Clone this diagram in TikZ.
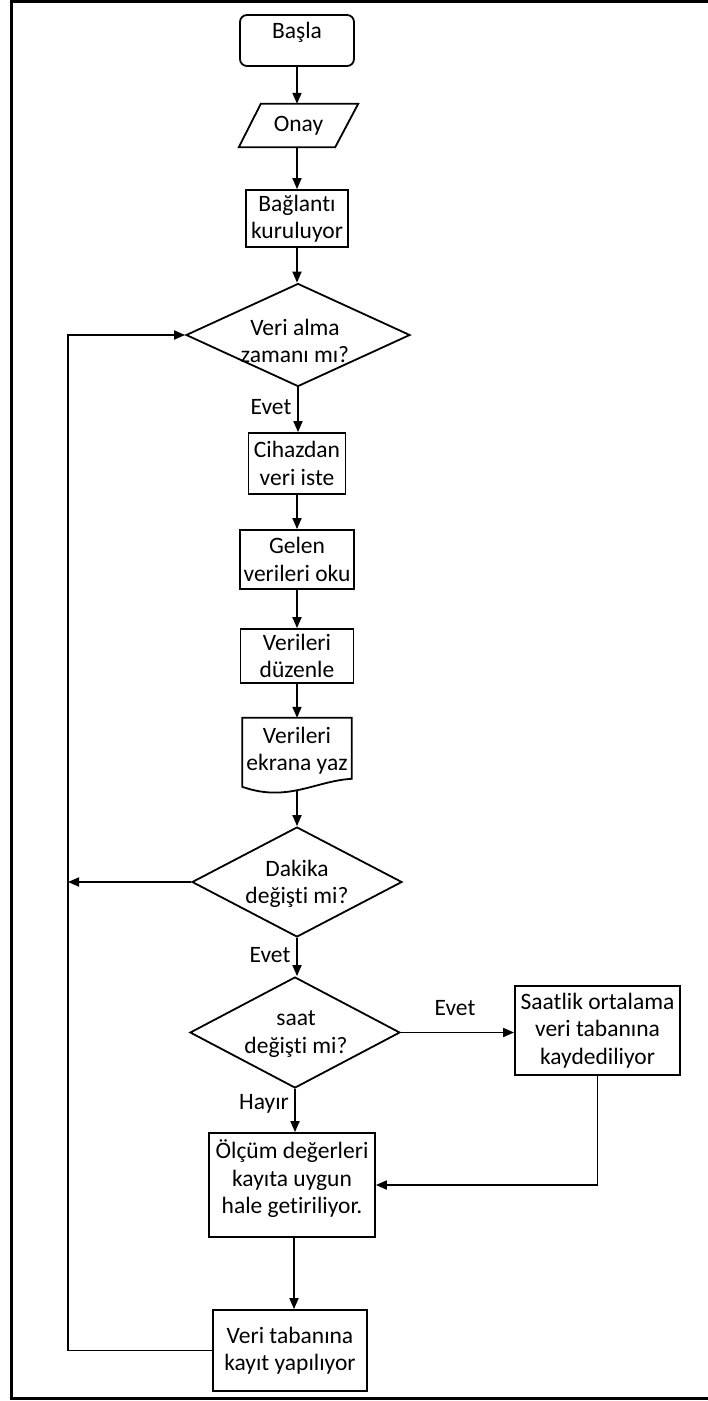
\documentclass[tikz,border=0pt]{standalone}
\usepackage{fontspec}
\setmainfont{Carlito}[Ligatures=NoCommon]
\usetikzlibrary{shapes.geometric,arrows.meta,calc}
\begin{document}
\begin{tikzpicture}[x=1pt,y=-1pt,
  every node/.style={font=\fontsize{23.5}{27.5}\selectfont, inner sep=0pt, align=center},
  shp/.style={draw=black, line width=1.8pt},
  conn/.style={line width=1.8pt, -{Triangle[length=11pt,width=9pt]}},
  frm/.style={line width=3pt}]
\useasboundingbox (0,0) rectangle (708,1401);
% frame
\draw[frm] (708,1) -- (11,1) -- (11,1398) -- (708,1398);

% nodes
\node[shp, rounded corners=7pt, minimum width=114, minimum height=51,
      label={[yshift=8pt]center:Başla}] (basla) at (297,40.5) {};
\node[minimum width=119, minimum height=43] (onay) at (298.5,125.5) {Onay};
\draw[shp] (onay.south west) -- ($(onay.south east)+(-23,0)$) -- (onay.north east)
           -- ($(onay.north west)+(22,0)$) -- cycle;
\node[shp, minimum width=102, minimum height=57] (baglanti) at (297,218.5) {Bağlantı\\kuruluyor};
\node[shp, diamond, minimum width=224, minimum height=103] (d1) at (298,335) {};
\node (d1t) at (295,341) {Veri alma\\zamanı mı?};
\node[shp, minimum width=97, minimum height=61] (cihaz) at (297,463.5) {Cihazdan\\veri iste};
\node[shp, minimum width=114, minimum height=59] (gelen) at (297,559.5) {Gelen\\verileri oku};
\node[shp, minimum width=113, minimum height=54] (duzenle) at (297,656) {Verileri\\düzenle};
\node[minimum width=109, minimum height=65] (ekrana) at (297,750.5) {Verileri\\ekrana yaz};
\draw[shp] (ekrana.north west) -- (ekrana.north east) -- ($(ekrana.north east)+(0,61)$)
   .. controls ($(ekrana.north east)+(-36,63)$) and ($(ekrana.north west)+(45,85)$)
   .. ($(ekrana.north west)+(0,69)$) -- cycle;
\coordinate (ekb) at (297,790);
\node[shp, diamond, minimum width=210, minimum height=110] (d2) at (297,882) {};
\node (d2t) at (297,884) {Dakika\\değişti mi?};
\node[shp, diamond, minimum width=210, minimum height=111] (d3) at (295,1032.5) {};
\node (d3t) at (296,1034) {saat\\değişti mi?};
\node[shp, minimum width=165, minimum height=89] (saat) at (597.5,1030.5)
     {Saatlik ortalama\\veri tabanına\\kaydediliyor};
\node[shp, minimum width=166, minimum height=104,
      label={[yshift=6pt]center:Ölçüm değerleri\\kayıta uygun\\hale getiriliyor.}] (olcum) at (292,1185) {};
\node[shp, minimum width=154, minimum height=81] (veri) at (290,1350.5) {Veri tabanına\\kayıt yapılıyor};
\coordinate (lp) at (68,0);

% labels
\node (e1) at (271,407) {Evet};
\node (e2) at (270,955) {Evet};
\node (e3) at (455,1008) {Evet};
\node (h1) at (264,1104) {Hayır};

% connectors
\draw[conn] (basla.south) -- (basla.south |- onay.north);
\draw[conn] (basla.south |- onay.south) -- (basla.south |- baglanti.north);
\draw[conn] (baglanti.south) -- (baglanti.south |- d1.north);
\draw[conn] (d1.south) -- (d1.south |- cihaz.north);
\draw[conn] (cihaz.south) -- (gelen.north);
\draw[conn] (gelen.south) -- (duzenle.north);
\draw[conn] (duzenle.south) -- (ekrana.north);
\draw[conn] (ekb) -- (d2.north);
\draw[conn] (d2.west) -- (d2.west -| lp);
\draw[conn] (d2.south) -- (d2.south |- d3.north);
\draw[conn] (d3.east) -- (d3.east -| saat.west);
\draw[conn] (d3.south) -- (d3.south |- olcum.north);
\draw[conn] (saat.south) |- (olcum.east);
\draw[conn] ($(olcum.south)+(2,0)$) -- ($(olcum.south |- veri.north)+(2,0)$);
\draw[conn] (veri.west) -- (veri.west -| lp) -- (lp |- d1.west) -- (d1.west);
\end{tikzpicture}
\end{document}
